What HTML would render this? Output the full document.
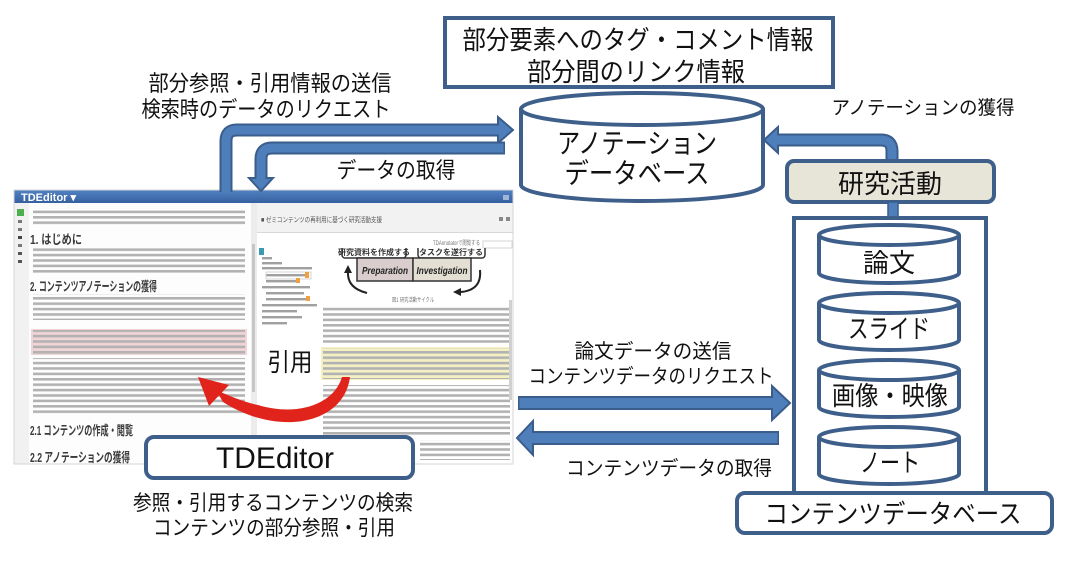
<!DOCTYPE html>
<html><head><meta charset="utf-8"><style>
html,body{margin:0;padding:0;background:#fff;}
svg{display:block;}
text{font-family:"Liberation Sans","Noto Sans CJK JP",sans-serif;}
</style></head><body>
<svg width="1074" height="563" viewBox="0 0 1074 563" xmlns="http://www.w3.org/2000/svg">
<defs>
<pattern id="ln" patternUnits="userSpaceOnUse" width="7" height="5.4"><rect width="7" height="2.6" fill="#b2b2b2"/></pattern>
<linearGradient id="tb" x1="0" y1="0" x2="0" y2="1"><stop offset="0" stop-color="#5282c2"/><stop offset="1" stop-color="#3560a0"/></linearGradient>
<clipPath id="shot"><rect x="14" y="190" width="499" height="274"/></clipPath>
<clipPath id="fig"><rect x="320" y="248" width="190" height="60"/></clipPath>
</defs>

<!-- ===== Screenshot ===== -->
<g clip-path="url(#shot)">
<rect x="14" y="190" width="499" height="274" fill="#f6f6f6"/>
<rect x="14" y="190" width="499" height="13" fill="url(#tb)"/>
<text x="21" y="201" font-size="11" font-weight="bold" fill="#fff">TDEditor ▾</text>
<rect x="503" y="195" width="6" height="5" fill="#9fb6d8"/>
<!-- left icon column -->
<rect x="14" y="203" width="15" height="261" fill="#f1f1f1"/>
<rect x="17" y="209" width="7" height="7" fill="#4caf50"/>
<rect x="18" y="220" width="4" height="3" fill="#777"/>
<rect x="18" y="228" width="4" height="3" fill="#777"/>
<rect x="18" y="236" width="4" height="3" fill="#444"/>
<rect x="18" y="244" width="4" height="3" fill="#777"/>
<rect x="18" y="252" width="4" height="3" fill="#555"/>
<rect x="18" y="260" width="4" height="3" fill="#555"/>
<!-- left document -->
<rect x="29" y="203" width="222" height="261" fill="#fdfdfd"/>
<rect x="33" y="208" width="212" height="18" fill="url(#ln)"/>
<text x="30" y="244" font-size="13" font-weight="bold" fill="#3a3a3a" textLength="52" lengthAdjust="spacingAndGlyphs">1. はじめに</text>
<rect x="33" y="248" width="212" height="26" fill="url(#ln)"/>
<text x="30" y="291" font-size="13" font-weight="bold" fill="#3a3a3a" textLength="127" lengthAdjust="spacingAndGlyphs">2. コンテンツアノテーションの獲得</text>
<rect x="33" y="294" width="212" height="26" fill="url(#ln)"/>
<rect x="31" y="329" width="216" height="26" fill="#f1d4d7"/>
<rect x="33" y="330" width="212" height="24" fill="url(#ln)"/>
<rect x="33" y="358" width="212" height="56" fill="url(#ln)"/>
<text x="30" y="435" font-size="13" font-weight="bold" fill="#3a3a3a" textLength="103" lengthAdjust="spacingAndGlyphs">2.1 コンテンツの作成・閲覧</text>
<text x="30" y="462" font-size="13" font-weight="bold" fill="#3a3a3a" textLength="100" lengthAdjust="spacingAndGlyphs">2.2 アノテーションの獲得</text>
<!-- doc scrollbar -->
<rect x="251" y="203" width="6" height="261" fill="#ececec"/>
<rect x="252" y="244" width="3" height="148" fill="#c6c6c6"/>
<!-- right panel -->
<rect x="257" y="203" width="256" height="261" fill="#ffffff"/>
<rect x="257" y="203" width="256" height="29" fill="#f2f2f2"/>
<rect x="257" y="232" width="256" height="1" fill="#d8d8d8"/>
<text x="261" y="222" font-size="7" fill="#555" textLength="121" lengthAdjust="spacingAndGlyphs">■ ゼミコンテンツの再利用に基づく研究活動支援</text>
<rect x="499" y="217" width="4" height="4" fill="#888"/><rect x="506" y="217" width="4" height="4" fill="#888"/>
<rect x="259" y="248" width="5" height="7" fill="#3a9ab0"/>
<!-- tree -->
<g fill="#a0a0a0">
<rect x="262" y="257" width="10" height="2.4"/>
<rect x="262" y="262" width="20" height="2.4"/>
<rect x="262" y="267" width="50" height="2.4"/>
<rect x="266" y="274" width="40" height="2.4"/>
<rect x="266" y="280" width="30" height="2.4"/>
<rect x="262" y="286" width="48" height="2.4"/>
<rect x="266" y="292" width="38" height="2.4"/>
<rect x="266" y="298" width="40" height="2.4"/>
<rect x="262" y="304" width="55" height="2.4"/>
<rect x="262" y="310" width="35" height="2.4"/>
<rect x="262" y="316" width="40" height="2.4"/>
<rect x="262" y="322" width="25" height="2.4"/>
</g>
<rect x="266" y="272" width="45" height="7" fill="none" stroke="#ccc" stroke-width="0.8"/>
<rect x="305" y="272" width="4" height="6" fill="#f0a040"/>
<rect x="296" y="278" width="4" height="5" fill="#f0a040"/>
<rect x="306" y="296" width="4" height="5" fill="#f0a040"/>
<text x="433" y="245" font-size="6" fill="#777" textLength="47" lengthAdjust="spacingAndGlyphs">TDAnnotatorで閲覧する</text>
<rect x="483" y="241" width="29" height="7" fill="#fff" stroke="#ccc" stroke-width="0.8"/>
<!-- figure -->
<g clip-path="url(#fig)">
<rect x="342" y="240" width="64" height="18" rx="3" fill="#fff" stroke="#333" stroke-width="1.5"/>
<rect x="418" y="240" width="67" height="18" rx="3" fill="#fff" stroke="#333" stroke-width="1.5"/>
<text x="374" y="255" font-size="8" font-weight="bold" fill="#333" text-anchor="middle">研究資料を作成する</text>
<text x="451" y="255" font-size="8" font-weight="bold" fill="#333" text-anchor="middle">タスクを遂行する</text>
<rect x="357" y="258" width="56" height="23" fill="#d9cdce" stroke="#333" stroke-width="1.5"/>
<rect x="413" y="258" width="58" height="23" fill="#e3dfd2" stroke="#333" stroke-width="1.5"/>
<text x="385" y="274" font-size="10" font-weight="bold" font-style="italic" fill="#222" text-anchor="middle" textLength="46" lengthAdjust="spacingAndGlyphs">Preparation</text>
<text x="442" y="274" font-size="10" font-weight="bold" font-style="italic" fill="#222" text-anchor="middle" textLength="51" lengthAdjust="spacingAndGlyphs">Investigation</text>
<path d="M367,293 Q347,288 348,272" stroke="#222" stroke-width="2" fill="none"/>
<polygon points="344,273 352,273 348,265" fill="#222"/>
<path d="M480,270 Q482,290 461,292" stroke="#222" stroke-width="2" fill="none"/>
<polygon points="461,288 461,296 453,292" fill="#222"/>
<text x="392" y="302" font-size="6" fill="#777" textLength="42" lengthAdjust="spacingAndGlyphs">図1 研究活動サイクル</text>
</g>
<rect x="323" y="307" width="187" height="36" fill="url(#ln)"/>
<rect x="321" y="347" width="191" height="33" fill="#f4f0c3"/>
<rect x="323" y="348" width="187" height="31" fill="url(#ln)"/>
<rect x="323" y="385" width="187" height="52" fill="url(#ln)"/>
<rect x="420" y="440" width="90" height="20" fill="url(#ln)"/>
<rect x="509" y="300" width="3" height="100" fill="#d0d0d0"/>
</g>
<rect x="14" y="190" width="499" height="274" fill="none" stroke="#d5d5d5" stroke-width="1"/>

<!-- 引用 label and red arrow -->
<text x="290" y="371" font-size="25" fill="#111" text-anchor="middle" textLength="45" lengthAdjust="spacingAndGlyphs">引用</text>
<path d="M350,377 C345,416 300,432 252,416 C238,411 229,406 223,402 L216,390 C232,397 244,402 258,405 C298,417 334,404 342,377 Z" fill="#e0241b"/>
<polygon points="198,377 229,385 209,406" fill="#e0241b"/>

<!-- ===== Top info box ===== -->
<rect x="445" y="18" width="388" height="69" fill="#fff" stroke="#3f5f8b" stroke-width="4"/>
<text x="638" y="49" font-size="26" fill="#111" text-anchor="middle" textLength="351" lengthAdjust="spacingAndGlyphs">部分要素へのタグ・コメント情報</text>
<text x="636" y="81" font-size="26" fill="#111" text-anchor="middle" textLength="218" lengthAdjust="spacingAndGlyphs">部分間のリンク情報</text>

<!-- ===== Annotation DB cylinder ===== -->
<path d="M521,109 L521,185 A121,16 0 0 0 763,185 L763,109" fill="#fff" stroke="#3f5f8b" stroke-width="4"/>
<ellipse cx="642" cy="109" rx="121" ry="16" fill="#fff" stroke="#3f5f8b" stroke-width="4"/>
<text x="637" y="153" font-size="28" fill="#111" text-anchor="middle" textLength="160" lengthAdjust="spacingAndGlyphs">アノテーション</text>
<text x="637" y="183" font-size="28" fill="#111" text-anchor="middle" textLength="145" lengthAdjust="spacingAndGlyphs">データベース</text>

<!-- ===== Left labels ===== -->
<text x="270" y="91" font-size="22" fill="#111" text-anchor="middle" textLength="243" lengthAdjust="spacingAndGlyphs">部分参照・引用情報の送信</text>
<text x="266" y="117" font-size="22" fill="#111" text-anchor="middle" textLength="249" lengthAdjust="spacingAndGlyphs">検索時のデータのリクエスト</text>
<text x="396" y="178" font-size="22" fill="#111" text-anchor="middle" textLength="119" lengthAdjust="spacingAndGlyphs">データの取得</text>

<!-- ===== Blue arrows ===== -->
<g fill="none" stroke-linejoin="round">
<!-- A -->
<path d="M226,192 L226,141 Q226,130 237,130 L499,130" stroke="#3a5d8c" stroke-width="13"/>
<polygon points="498,117 513,130 498,143" fill="#4f7fba" stroke="#3a5d8c" stroke-width="2" stroke-linejoin="miter"/>
<path d="M226,193 L226,141 Q226,130 237,130 L501,130" stroke="#4f7fba" stroke-width="9"/>
<!-- B -->
<path d="M505,148 L272,148 Q261,148 261,159 L261,179" stroke="#3a5d8c" stroke-width="13"/>
<polygon points="249,178 273,178 261,191" fill="#4f7fba" stroke="#3a5d8c" stroke-width="2" stroke-linejoin="miter"/>
<path d="M503.5,148 L272,148 Q261,148 261,159 L261,181" stroke="#4f7fba" stroke-width="9"/>
<!-- C -->
<path d="M892,161 L892,151 Q892,140 881,140 L777,140" stroke="#3a5d8c" stroke-width="13"/>
<polygon points="778,127 778,153 764,140" fill="#4f7fba" stroke="#3a5d8c" stroke-width="2" stroke-linejoin="miter"/>
<path d="M892,163 L892,151 Q892,140 881,140 L775,140" stroke="#4f7fba" stroke-width="9"/>
<!-- E -->
<path d="M518,403 L773,403" stroke="#3a5d8c" stroke-width="14"/>
<polygon points="772,386 790,403 772,420" fill="#4f7fba" stroke="#3a5d8c" stroke-width="2" stroke-linejoin="miter"/>
<path d="M519.5,403 L775,403" stroke="#4f7fba" stroke-width="10"/>
<!-- F -->
<path d="M779,438 L532,438" stroke="#3a5d8c" stroke-width="14"/>
<polygon points="533,421 517,438 533,455" fill="#4f7fba" stroke="#3a5d8c" stroke-width="2" stroke-linejoin="miter"/>
<path d="M777.5,438 L530,438" stroke="#4f7fba" stroke-width="10"/>
</g>

<text x="923" y="114" font-size="19" fill="#111" text-anchor="middle" textLength="183" lengthAdjust="spacingAndGlyphs">アノテーションの獲得</text>

<!-- ===== 研究活動 ===== -->
<rect x="787" y="161" width="207" height="41" rx="7" fill="#e7e4d8" stroke="#3f5f8b" stroke-width="4"/>
<text x="890" y="193" font-size="26" fill="#111" text-anchor="middle" textLength="104" lengthAdjust="spacingAndGlyphs">研究活動</text>
<rect x="888" y="202" width="10" height="16" fill="#4f7fba" stroke="#3a5d8c" stroke-width="1.5"/>

<!-- ===== Contents DB container ===== -->
<rect x="794" y="218" width="192" height="290" fill="#fff" stroke="#3f5f8b" stroke-width="4"/>
<g stroke="#3f5f8b" stroke-width="4" fill="#fff">
<path d="M819,235 L819,273 A70,10 0 0 0 959,273 L959,235"/><ellipse cx="889" cy="235" rx="70" ry="10"/>
<path d="M819,303 L819,340 A70,10 0 0 0 959,340 L959,303"/><ellipse cx="889" cy="303" rx="70" ry="10"/>
<path d="M819,370 L819,407 A70,10 0 0 0 959,407 L959,370"/><ellipse cx="889" cy="370" rx="70" ry="10"/>
<path d="M819,437 L819,474 A70,10 0 0 0 959,474 L959,437"/><ellipse cx="889" cy="437" rx="70" ry="10"/>
</g>
<text x="889" y="272" font-size="26" fill="#111" text-anchor="middle" textLength="52" lengthAdjust="spacingAndGlyphs">論文</text>
<text x="889" y="338" font-size="26" fill="#111" text-anchor="middle" textLength="82" lengthAdjust="spacingAndGlyphs">スライド</text>
<text x="890" y="405" font-size="26" fill="#111" text-anchor="middle" textLength="116" lengthAdjust="spacingAndGlyphs">画像・映像</text>
<text x="890" y="472" font-size="26" fill="#111" text-anchor="middle" textLength="60" lengthAdjust="spacingAndGlyphs">ノート</text>

<rect x="737" y="493" width="315" height="40" rx="8" fill="#fff" stroke="#3f5f8b" stroke-width="4"/>
<text x="893" y="523" font-size="26" fill="#111" text-anchor="middle" textLength="257" lengthAdjust="spacingAndGlyphs">コンテンツデータベース</text>

<!-- middle labels -->
<text x="653" y="358" font-size="20" fill="#111" text-anchor="middle" textLength="157" lengthAdjust="spacingAndGlyphs">論文データの送信</text>
<text x="651" y="383" font-size="20" fill="#111" text-anchor="middle" textLength="245" lengthAdjust="spacingAndGlyphs">コンテンツデータのリクエスト</text>
<text x="669" y="475" font-size="20" fill="#111" text-anchor="middle" textLength="206" lengthAdjust="spacingAndGlyphs">コンテンツデータの取得</text>

<!-- ===== TDEditor box ===== -->
<rect x="146" y="437" width="267" height="41" rx="8" fill="#fff" stroke="#3f5f8b" stroke-width="4"/>
<text x="275" y="468" font-size="30" fill="#111" text-anchor="middle" textLength="118" lengthAdjust="spacingAndGlyphs">TDEditor</text>
<text x="273" y="510" font-size="21" fill="#111" text-anchor="middle" textLength="280" lengthAdjust="spacingAndGlyphs">参照・引用するコンテンツの検索</text>
<text x="274" y="535" font-size="21" fill="#111" text-anchor="middle" textLength="242" lengthAdjust="spacingAndGlyphs">コンテンツの部分参照・引用</text>
</svg>
</body></html>
